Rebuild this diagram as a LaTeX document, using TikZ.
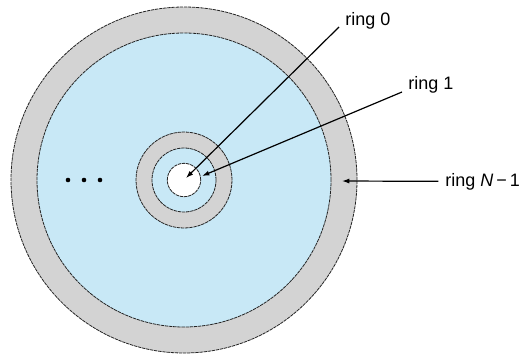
\documentclass[tikz,border=0pt]{standalone}
\usepackage{fontspec}
\setmainfont{Liberation Sans}
\usepackage{tikz}
\usetikzlibrary{arrows.meta, positioning, calc}
\definecolor{ringgray}{RGB}{211, 211, 211}
\definecolor{ringblue}{RGB}{200, 232, 246}
\definecolor{ringline}{RGB}{35, 35, 35}

\begin{document}
\begin{tikzpicture}[x=0.75pt, y=0.75pt, >={Latex[length=5.5pt, width=3.8pt]},
    ringedge/.style={draw=ringline, line width=0.6pt, dash pattern=on 2.5pt off 0.6pt},
    ptr/.style={->, line width=0.9pt, black},
    lbl/.style={inner sep=0pt, anchor=base west, font=\fontsize{13.5}{16}\selectfont}]
  \useasboundingbox (0,0) rectangle (523,358);
  \coordinate (c) at (184,178);
  % Outer rings
  \fill[ringgray] (c) circle (173);
  \draw[ringedge] (c) circle (173);
  \fill[ringblue] (c) circle (147);
  \draw[ringedge] (c) circle (147);
  % Inner rings
  \fill[ringgray] (c) circle (48);
  \draw[ringedge] (c) circle (48);
  \fill[ringblue] (c) circle (32);
  \draw[ringedge] (c) circle (32);
  \fill[white] (c) circle (16.7);
  \draw[ringedge] (c) circle (16.7);
  % Dots
  \foreach \dx in {68, 84, 100}
    \fill[black] (\dx,178) circle (2.3);
  % Labels
  \node[lbl] (lbl0) at (345,333) {ring 0};
  \node[lbl] (lbl1) at (408,269) {ring 1};
  \node[lbl] (lblN) at (445,172) {ring \textit{N}\,−\,1};
  \coordinate (tip0) at (186,180);
  \coordinate (tip1) at (202,182);
  \coordinate (tipN) at (342,177);
  \draw[ptr] ([shift={(-6,2)}]lbl0.south west) -- (tip0);
  \draw[ptr] ([shift={(-6,1)}]lbl1.south west) -- (tip1);
  \draw[ptr] ([xshift=-5]lblN.west) -- (tipN);
\end{tikzpicture}
\end{document}
